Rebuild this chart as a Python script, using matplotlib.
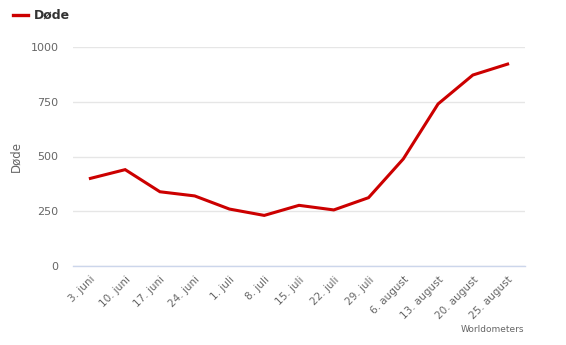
import matplotlib
matplotlib.use("Agg")
import matplotlib.pyplot as plt

plt.rcParams['font.family'] = ['DejaVu Sans']

# Weekly deaths, June to August
dates = ["3. juni", "10. juni", "17. juni", "24. juni", "1. juli", "8. juli",
         "15. juli", "22. juli", "29. juli", "6. august", "13. august",
         "20. august", "25. august"]
deaths = [400, 440, 339, 320, 260, 231, 277, 256, 312, 489, 740, 872, 922]
y_ticks = [0, 250, 500, 750, 1000]
series_name = "Døde"
source = "Worldometers"

W, H = 566, 345
fig = plt.figure(figsize=(W / 100, H / 100), dpi=100)
ax = fig.add_axes([73 / W, 1 - 266 / H, (525 - 73) / W, (266 - 47) / H])

x = list(range(len(dates)))
ax.plot(x, deaths, color="#cc0000", linewidth=2.2, solid_joinstyle="miter",
        clip_on=False, zorder=3)

ax.set_xlim(-0.5, len(dates) - 0.5)
ax.set_ylim(0, 1000)
ax.set_yticks(y_ticks)
ax.set_yticklabels([str(v) for v in y_ticks])
ax.set_xticks(x)
ax.set_xticklabels(dates, rotation=45, ha="right", rotation_mode="anchor")

ax.grid(axis="y", color="#e6e6e6", linewidth=1)
ax.set_axisbelow(True)
for s in ["top", "right", "left"]:
    ax.spines[s].set_visible(False)
ax.spines["bottom"].set_color("#ccd6eb")
ax.spines["bottom"].set_linewidth(1)
ax.tick_params(axis="y", length=0, pad=10.5, labelsize=8, labelcolor="#666666")
ax.tick_params(axis="x", length=0, pad=6, labelsize=7.5, labelcolor="#666666")

ax.set_ylabel(series_name, fontsize=8.5, color="#666666")
ax.yaxis.set_label_coords(-0.111, 0.5)

# Legend entry at top left
fig.add_artist(plt.Line2D([13 / W, 28 / W], [1 - 15 / H, 1 - 15 / H],
                          color="#cc0000", linewidth=2.4))
fig.text(34 / W, 1 - 15 / H, series_name, fontsize=9, fontweight="bold",
         color="#333333", va="center", ha="left")

fig.text(524 / W, 1 - 330 / H, source, fontsize=6.5, color="#666666",
         ha="right", va="center")

fig.savefig("out.png", dpi=100)
